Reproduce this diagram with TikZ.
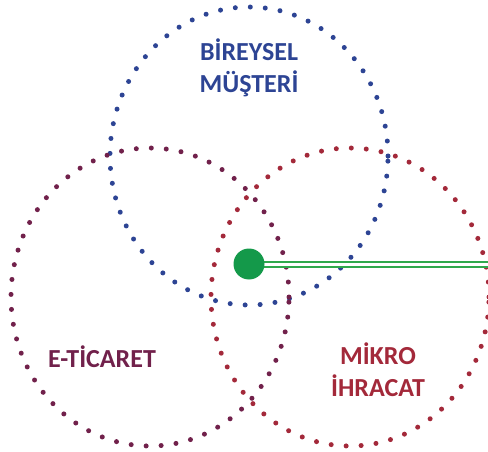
\documentclass[tikz,border=0pt]{standalone}
\usepackage{fontspec}
\setmainfont{Carlito}
\usepackage{tikz}
\usetikzlibrary{shapes.geometric}
\definecolor{setBlue}{HTML}{2D4494}
\definecolor{setPlum}{HTML}{71214B}
\definecolor{setRed}{HTML}{A3293A}
\definecolor{hubGreen}{HTML}{14994A}
\definecolor{linkGreen}{HTML}{2FA84C}

\begin{document}
\begin{tikzpicture}[
    x=1pt, y=-1pt,
    set/.style={ellipse, draw=#1, inner sep=0pt, minimum width=278pt,
                minimum height=298pt, line width=5pt, line cap=round,
                dash pattern=on 0pt off 15pt},
    lbl/.style={font=\fontsize{26}{32}\selectfont\bfseries, text=#1,
                align=center, inner sep=0pt},
  ]
  \useasboundingbox (0,0) rectangle (488,452);

  % --- sets ---
  \node[set=setBlue] (musteri) at (249,156) {};
  \node[set=setPlum] (ticaret) at (150,297) {};
  \node[set=setRed]  (ihracat) at (350,297) {};

  % --- labels ---
  \node[lbl=setBlue] (lmusteri) at (249,68) {BİREYSEL\\MÜŞTERİ};
  \node[lbl=setPlum] (lticaret) at (102,357) {E-TİCARET};
  \node[lbl=setRed]  (lihracat) at (378,370) {MİKRO\\İHRACAT};

  % --- hub and link ---
  \coordinate (edge) at (489,264);
  \draw[linkGreen, line width=2pt, double=white, double distance=3pt]
    (249,264) -- (edge);
  \node[circle, fill=hubGreen, inner sep=0pt, minimum size=31pt]
    (hub) at (249,264) {};

\end{tikzpicture}
\end{document}
